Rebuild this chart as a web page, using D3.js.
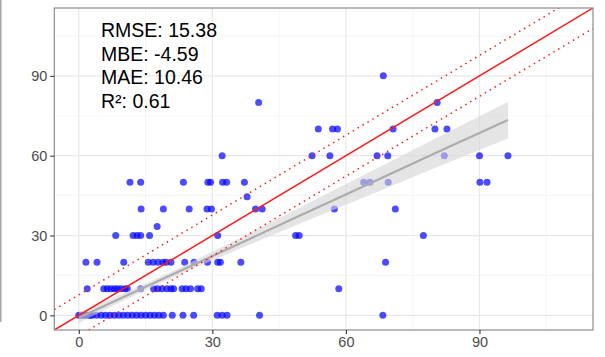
<!DOCTYPE html>
<html>
<head>
<meta charset="utf-8">
<script src="https://cdn.jsdelivr.net/npm/d3@7"></script>
<style>
  html, body { margin: 0; padding: 0; background: #fff; }
  svg { display: block; }
</style>
</head>
<body>
<svg id="chart" width="605" height="357"></svg>
<script>
// ---------------- data ----------------
const observed = [
  // row predicted = 0
  0, 0.5, 1, 1.5, 2, 2.5, 3, 4, 5, 6, 7, 8, 9, 10, 11, 12, 13, 14, 15, 16, 17, 18, 19, 21, 23.4, 25.8, 31.1, 32.2, 33.3, 40.6, 68.3,
  // row 10
  1.9, 5.6, 6.4, 7.2, 8, 8.7, 9.5, 10.4, 10.9, 13.9, 16.8, 17.7, 18.7, 19.8, 20.7, 21.3, 23.2, 24.1, 25.1, 26.7, 27.5, 58.4,
  // row 20
  1.6, 4.1, 10.1, 15.6, 16.7, 17.8, 18.9, 19.6, 20.7, 23.8, 25.9, 28.9, 31.2, 31.8, 36.4, 68.9,
  // row 30
  8.3, 12.2, 13.1, 13.9, 15.9, 31.2, 48.7, 49.5, 77.4,
  17.6,
  // row 40
  14, 19, 24.8, 28.8, 29.8, 39.7, 41.2, 57.4, 71.1,
  37.8,
  // row 50
  11.5, 13.9, 23.5, 29.0, 29.6, 32.3, 33.2, 37.2, 64.0, 65.4, 69.5, 90.1, 91.7,
  // row 60
  32.2, 52.4, 56.4, 67.0, 69.4, 82.1, 90.0, 96.4,
  // row 70
  53.8, 57.0, 58.1, 70.6, 80.0, 82.7,
  // row 80
  40.4, 80.5,
  // row 90
  68.4
];
const predicted = [
  0,0,0,0,0,0,0,0,0,0,0,0,0,0,0,0,0,0,0,0,0,0,0,0,0,0,0,0,0,0,0,
  10,10,10,10,10,10,10,10,10,10,10,10,10,10,10,10,10,10,10,10,10,10,
  20,20,20,20,20,20,20,20,20,20,20,20,20,20,20,20,
  30,30,30,30,30,30,30,30,30,
  33.4,
  40,40,40,40,40,40,40,40,40,
  44.6,
  50,50,50,50,50,50,50,50,50,50,50,50,50,
  60,60,60,60,60,60,60,60,
  70,70,70,70,70,70,
  80,80,
  90
];

// linear fit with its confidence band
const fitX     = [0, 16, 32, 48, 64, 80, 96.4];
const fitY     = [-0.9, 11.5, 23.8, 36.2, 48.5, 60.9, 73.4];
const fitLower = [-2.9, 10.3, 22.1, 33.3, 44.3, 55.4, 66.5];
const fitUpper = [1.1, 12.7, 25.5, 39.1, 52.7, 66.4, 80.3];

const offsetBand = 7.7;        // dotted lines: 1:1 line +/- this value
const axisDomain = [-5.5, 115.5];
const tickValues = [0, 30, 60, 90];
const minorValues = [15, 45, 75, 105];
const statLabels = ["RMSE: 15.38", "MBE: -4.59", "MAE: 10.46", "R\u00B2: 0.61"];

// ---------------- drawing ----------------
const svg = d3.select("#chart");
const L = 54.3, R = 593, T = 8, B = 330;
const x = d3.scaleLinear().domain(axisDomain).range([L, R]);
const y = d3.scaleLinear().domain(axisDomain).range([B, T]);

// left edge line from neighbouring panel
svg.append("line").attr("x1", 0.8).attr("x2", 0.8).attr("y1", 0).attr("y2", 322)
  .attr("stroke", "#9a9a9a").attr("stroke-width", 1.3);

svg.append("defs").append("clipPath").attr("id", "clip")
  .append("rect").attr("x", L).attr("y", T).attr("width", R - L).attr("height", B - T);

const panel = svg.append("g");
panel.append("rect").attr("x", L).attr("y", T).attr("width", R - L).attr("height", B - T).attr("fill", "#fff");

// grid
const grid = panel.append("g");
minorValues.forEach(v => {
  grid.append("line").attr("x1", x(v)).attr("x2", x(v)).attr("y1", T).attr("y2", B)
    .attr("stroke", "#f0f0f0").attr("stroke-width", 0.7);
  grid.append("line").attr("y1", y(v)).attr("y2", y(v)).attr("x1", L).attr("x2", R)
    .attr("stroke", "#f0f0f0").attr("stroke-width", 0.7);
});
tickValues.forEach(v => {
  grid.append("line").attr("x1", x(v)).attr("x2", x(v)).attr("y1", T).attr("y2", B)
    .attr("stroke", "#e8e8e8").attr("stroke-width", 1.2);
  grid.append("line").attr("y1", y(v)).attr("y2", y(v)).attr("x1", L).attr("x2", R)
    .attr("stroke", "#e8e8e8").attr("stroke-width", 1.2);
});

const plot = panel.append("g").attr("clip-path", "url(#clip)");

// points
plot.append("g").selectAll("circle")
  .data(observed.map((v, i) => [v, predicted[i]]))
  .join("circle")
  .attr("cx", d => x(d[0])).attr("cy", d => y(d[1])).attr("r", 3.5)
  .attr("fill", "#0000ff").attr("fill-opacity", 0.7);

// confidence band
const fitData = fitX.map((v, i) => ({x: v, y: fitY[i], lo: fitLower[i], hi: fitUpper[i]}));
plot.append("path").datum(fitData)
  .attr("d", d3.area().x(d => x(d.x)).y0(d => y(d.lo)).y1(d => y(d.hi)).curve(d3.curveMonotoneX))
  .attr("fill", "#d4d4d4").attr("fill-opacity", 0.6);
plot.append("path").datum(fitData)
  .attr("d", d3.line().x(d => x(d.x)).y(d => y(d.y)))
  .attr("fill", "none").attr("stroke", "#acacac").attr("stroke-width", 2.2);

// 1:1 and offset lines
const ends = axisDomain;
plot.append("line").attr("x1", x(ends[0])).attr("y1", y(ends[0])).attr("x2", x(ends[1])).attr("y2", y(ends[1]))
  .attr("stroke", "#ff1a1a").attr("stroke-width", 1.5);
[offsetBand, -offsetBand].forEach(o => {
  plot.append("line").attr("x1", x(ends[0])).attr("y1", y(ends[0] + o)).attr("x2", x(ends[1])).attr("y2", y(ends[1] + o))
    .attr("stroke", "#ff1a1a").attr("stroke-width", 1.5).attr("stroke-dasharray", "1.5,4.2");
});

// panel border
panel.append("rect").attr("x", L).attr("y", T).attr("width", R - L).attr("height", B - T)
  .attr("fill", "none").attr("stroke", "#8c8c8c").attr("stroke-width", 1.2);

// axes
const xAxis = svg.append("g").attr("transform", `translate(0,${B})`)
  .call(d3.axisBottom(x).tickValues(tickValues).tickSize(4).tickPadding(3));
const yAxis = svg.append("g").attr("transform", `translate(${L},0)`)
  .call(d3.axisLeft(y).tickValues(tickValues).tickSize(4).tickPadding(3));
[xAxis, yAxis].forEach(a => {
  a.select(".domain").remove();
  a.selectAll(".tick line").attr("stroke", "#333").attr("stroke-width", 1.1);
  a.selectAll(".tick text").attr("fill", "#4d4d4d")
    .style("font-family", "'Liberation Sans', Arial, sans-serif").style("font-size", "14.5px");
});

// stats text
svg.append("g").selectAll("text").data(statLabels).join("text")
  .attr("x", 101).attr("y", (d, i) => 37.3 + i * 23.4)
  .attr("fill", "#000")
  .style("font-family", "'Liberation Sans', Arial, sans-serif").style("font-size", "19.5px")
  .text(d => d);
</script>
</body>
</html>
